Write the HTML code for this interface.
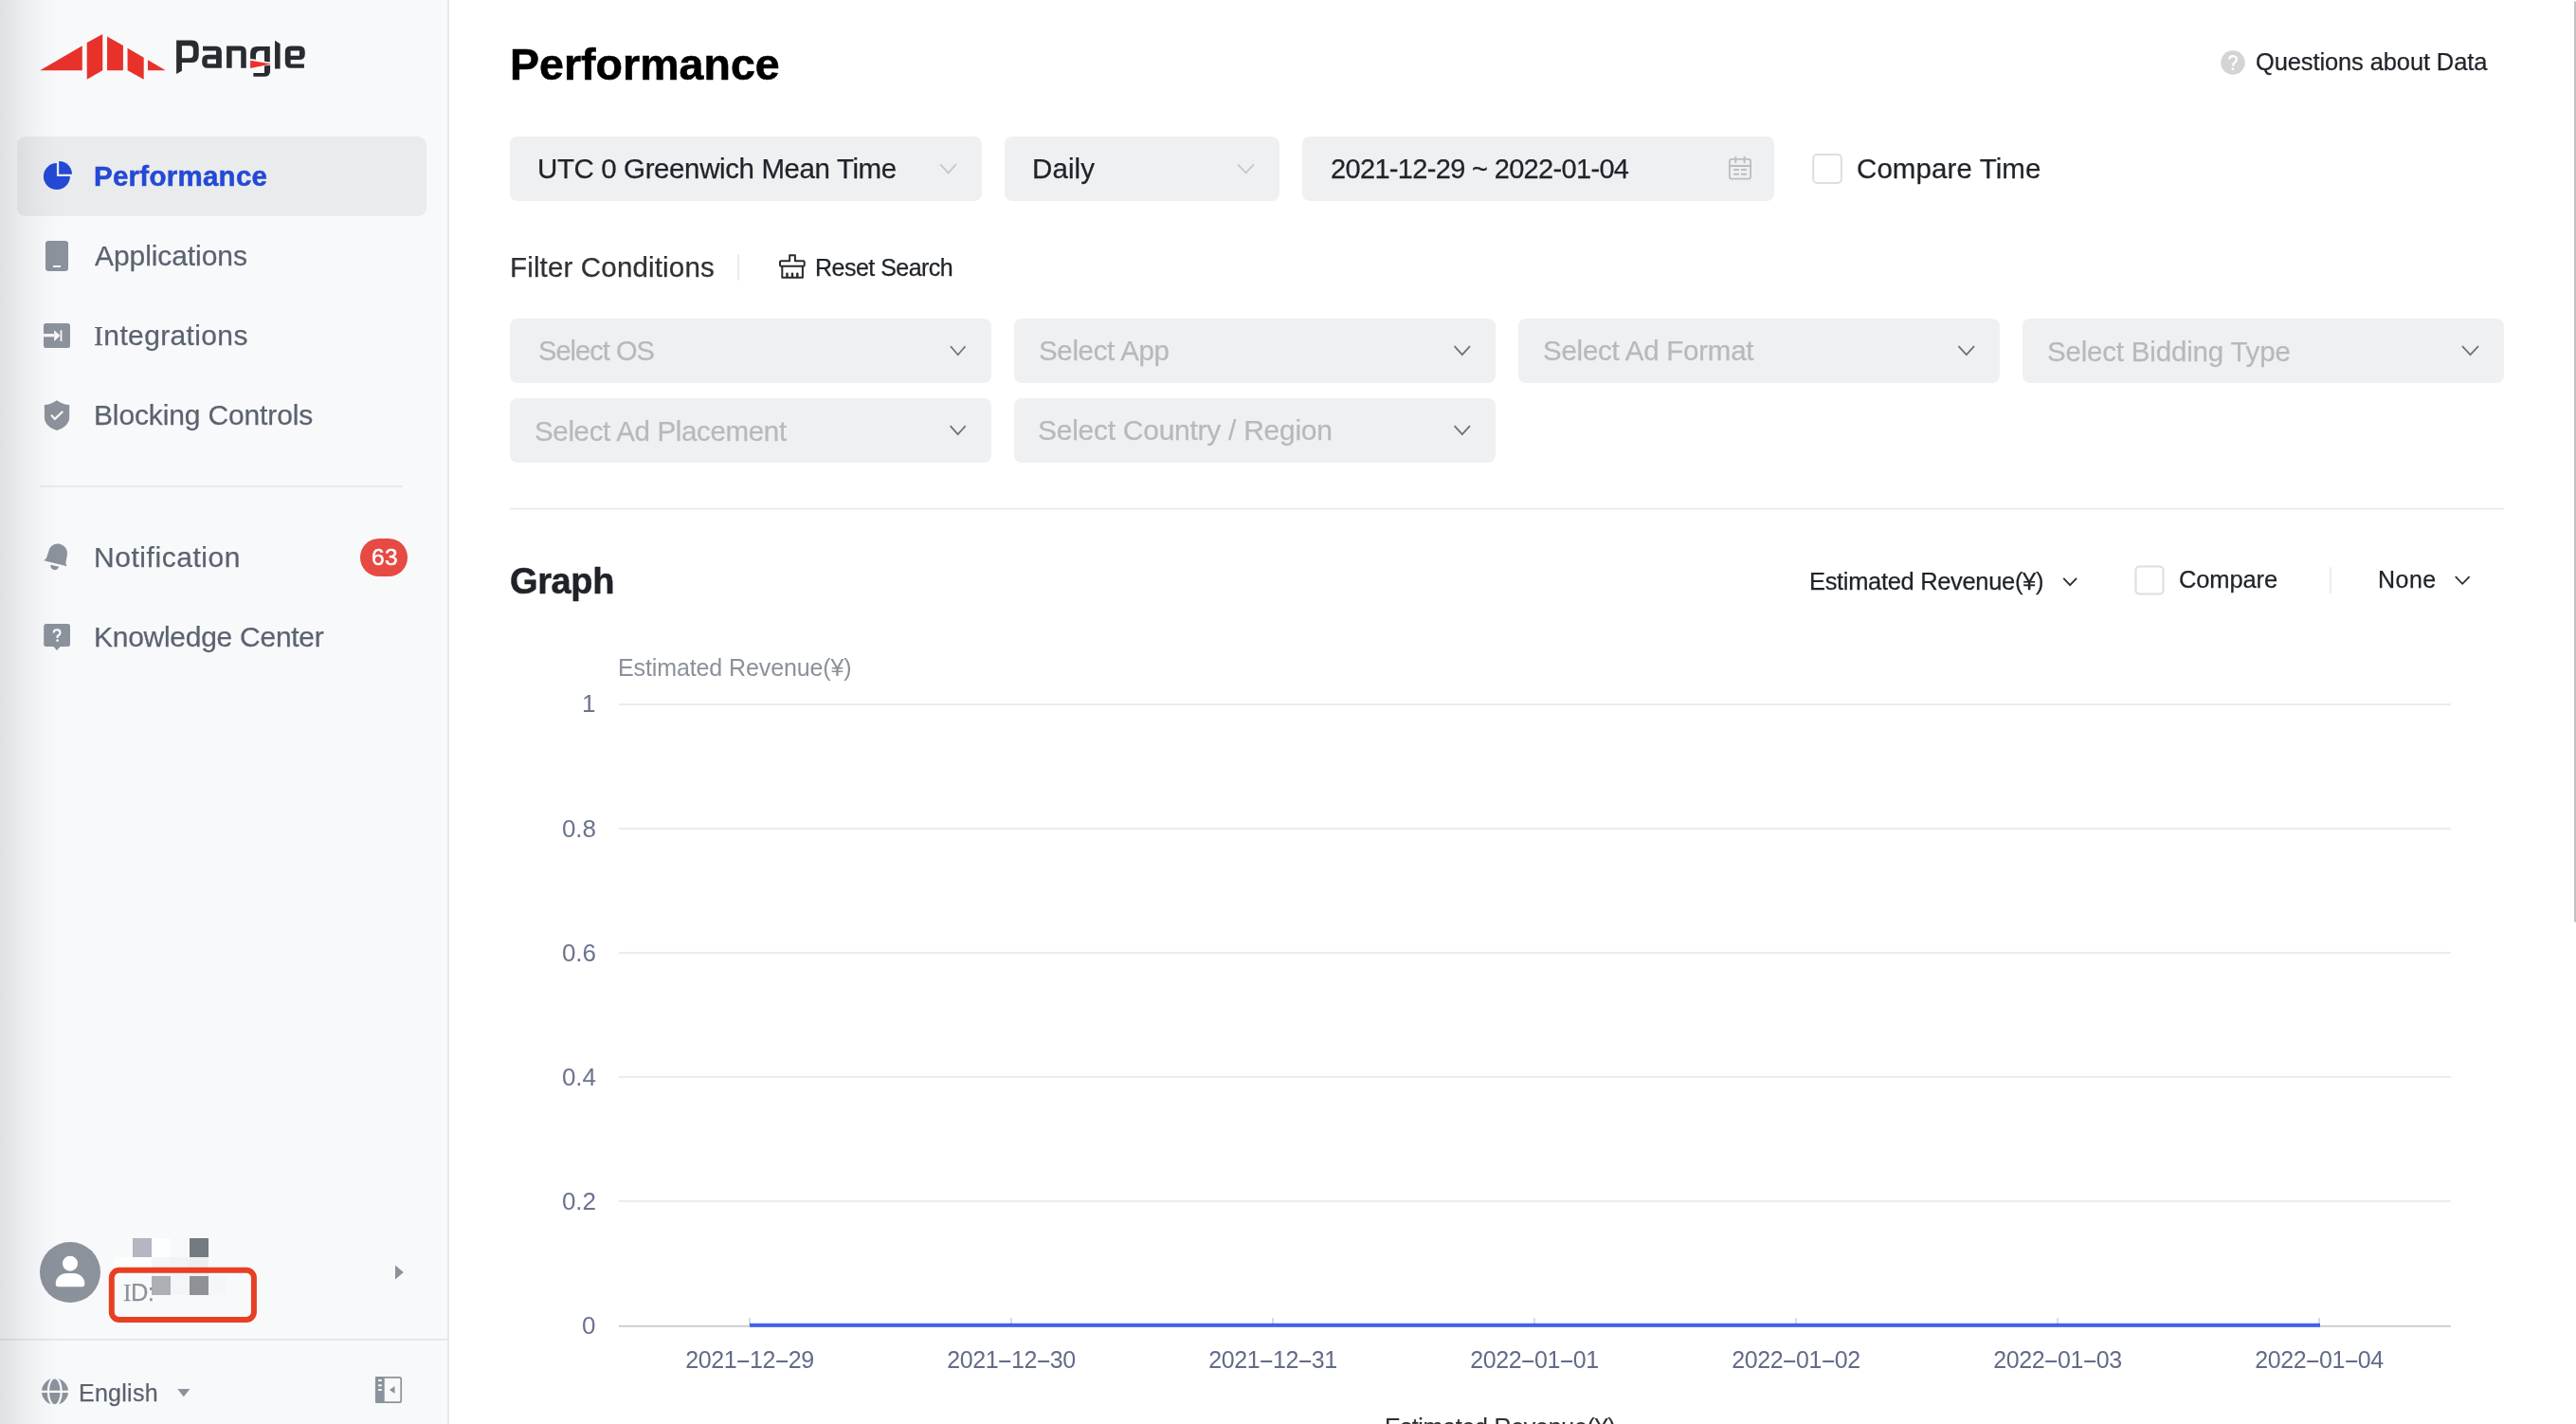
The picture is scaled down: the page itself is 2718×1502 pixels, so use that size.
<!DOCTYPE html>
<html><head><meta charset="utf-8">
<style>
html,body{margin:0;padding:0;}
body{width:2718px;height:1502px;overflow:hidden;position:relative;background:#fff;font-family:"Liberation Sans",sans-serif;}
.t{position:absolute;line-height:1;white-space:nowrap;will-change:transform;}
.abs{position:absolute;}
svg{position:absolute;left:0;top:0;overflow:visible;}
</style></head><body>
<div class="abs" style="left:0;top:0;width:472px;height:1502px;background:#f8f9fb;"></div>
<div class="abs" style="left:472px;top:0;width:2px;height:1502px;background:#e6e7ea;"></div>
<div class="abs" style="left:18px;top:144px;width:432px;height:84px;border-radius:9px;background:#eaebed;"></div>
<svg class="abs" style="left:30px;top:20px;" width="300" height="80" viewBox="0 0 2576 687">
<g fill="#e8312a">
<polygon points="105,465 488,243 488,465"/>
<polygon points="530,215 672,138 672,465 530,548"/>
<polygon points="713,158 858,240 858,465 713,465"/>
<polygon points="898,265 1045,350 1045,548 898,465"/>
<polygon points="1082,372 1243,465 1082,465"/>
</g>
<g transform="translate(1288,137.4) scale(0.5)">
<path fill="#2a2b30" fill-rule="evenodd" d="M105,110 L390,110 Q510,110 510,250 L510,375 Q510,515 390,515 L205,515 L205,665 L105,720 Z M205,210 L205,432 L345,432 Q410,432 410,370 L410,275 Q410,210 345,210 Z"/>
<path fill="#2a2b30" fill-rule="evenodd" d="M585,220 L820,220 Q925,220 925,325 L925,615 L675,615 Q570,615 570,510 L570,480 Q570,375 675,375 L825,375 L825,300 L585,300 Z M665,455 L665,535 L825,535 L825,455 Z"/>
<path fill="#2a2b30" d="M1015,215 L1265,215 Q1370,215 1370,320 L1370,615 L1275,615 L1275,300 L1110,300 L1110,615 L1015,615 Z"/>
<path fill="#2a2b30" d="M1800,225 L1800,505 L1700,492 L1700,300 L1630,300 Q1545,300 1545,385 L1545,460 L1445,447 L1445,350 Q1445,225 1570,225 Z"/>
<path fill="#2a2b30" d="M1700,575 L1805,562 L1805,665 Q1805,770 1700,770 L1500,770 L1500,705 L1700,705 Z"/>
<polygon fill="#e8312a" points="1445,478 1825,540 1445,618"/>
<path fill="#2a2b30" d="M1890,118 L1985,175 L1985,625 L1890,625 Z"/>
<path fill="#2a2b30" fill-rule="evenodd" d="M2075,320 Q2075,215 2180,215 L2330,215 Q2435,215 2435,320 L2435,360 Q2435,465 2330,465 L2175,465 L2175,540 L2420,540 L2420,615 L2180,615 Q2075,615 2075,510 Z M2175,300 L2175,390 L2335,390 L2335,300 Z"/>
</g></svg>
<svg width="2718" height="1502">
<path fill="#2349d5" d="M59.9,172.1 A14,14 0 1,0 73.9,186.1 L59.9,186.1 Z"/>
<path fill="#2349d5" d="M62.2,170 A13.8,13.8 0 0,1 76,183.8 L62.2,183.8 Z"/>
<rect x="48" y="254" width="24" height="32" rx="3" fill="#8c929b"/>
<rect x="56" y="280" width="8" height="2" fill="#f8f9fb"/>
<rect x="46" y="341" width="28" height="26" rx="2.5" fill="#8c929b"/>
<rect x="45" y="352.1" width="12" height="3.2" fill="#f8f9fb"/>
<polygon points="57.2,348.2 63.4,353.9 57.2,360" fill="#f8f9fb"/>
<rect x="63.6" y="348.2" width="1.8" height="11.8" fill="#f8f9fb"/>
<path fill="#8c929b" d="M60,422.2 C55.5,425.3 51.5,426.9 46.9,427 L46.9,440.5 C46.9,447 53,452 60,454 C67,452 73.2,447 73.2,440.5 L73.2,427 C68.5,426.9 64.5,425.3 60,422.2 Z"/>
<polyline points="54,437.8 57.9,441.9 66.3,434" fill="none" stroke="#f8f9fb" stroke-width="2.2"/>
<g transform="translate(60,588) rotate(14)" fill="#8c929b">
<path d="M-12.5,6.5 L-10.5,3.5 L-10,-4 C-10,-10.5 -5.5,-14.5 0,-14.5 C5.5,-14.5 10,-10.5 10,-4 L10.5,3.5 L12.5,6.5 Z"/>
<path d="M-4.5,9 A4.5,4.5 0 0,0 4.5,9 Z"/>
</g>
<rect x="46.2" y="658" width="27.8" height="24" rx="2.5" fill="#8c929b"/>
<polygon points="56,681.5 64,681.5 60,686" fill="#8c929b"/>
<path d="M56.6,667.6 C56.6,665.4 58,664.3 60,664.3 C62,664.3 63.5,665.5 63.5,667.4 C63.5,669.4 61.9,670 60.6,671 L60.6,673" fill="none" stroke="#fff" stroke-width="2"/>
<circle cx="60.6" cy="675.6" r="1.3" fill="#fff"/>
<line x1="42" y1="513" x2="425" y2="513" stroke="#e3e5e8" stroke-width="1.5"/>
<rect x="380" y="568" width="50" height="40" rx="20" fill="#e64a42"/>
<circle cx="74" cy="1342" r="32" fill="#8c929b"/>
<circle cx="74" cy="1332.7" r="8" fill="#fff"/>
<path d="M58.7,1354 C58.7,1347.5 64,1343 71,1343 L77,1343 C84,1343 89.4,1347.5 89.4,1354 C89.4,1356 88.5,1357.3 86.5,1357.3 L61.6,1357.3 C59.6,1357.3 58.7,1356 58.7,1354 Z" fill="#fff"/>
<rect x="140" y="1306" width="20" height="20" fill="#b3b7c2"/>
<rect x="160" y="1306" width="20" height="20" fill="#fdfeff"/>
<rect x="200" y="1306" width="20" height="20" fill="#737a80"/>
<rect x="120" y="1326" width="40" height="20" fill="#fcfdfd"/>
<rect x="160" y="1326" width="20" height="20" fill="#f4f5f8"/>
<rect x="180" y="1326" width="20" height="20" fill="#f1f3f6"/>
<rect x="200" y="1326" width="20" height="20" fill="#eeeff3"/>
<rect x="180" y="1346" width="20" height="20" fill="#f4f5f7"/>
<rect x="220" y="1346" width="19" height="20" fill="#f5f6f8"/>
<rect x="160" y="1346" width="20" height="20" fill="#aeafb4"/>
<rect x="200" y="1346" width="20" height="20" fill="#8f9196"/>
<rect x="117.8" y="1339.7" width="150.1" height="52.3" rx="8" fill="none" stroke="#e83f24" stroke-width="6"/>
<polygon points="417,1334.5 425.8,1342 417,1349.4" fill="#8c929b"/>
<rect x="0" y="1412" width="472" height="2" fill="#e6e8eb"/>
<circle cx="58" cy="1467.8" r="14" fill="#8c929b"/>
<ellipse cx="57.8" cy="1467.8" rx="6.9" ry="14.5" fill="none" stroke="#f8f9fb" stroke-width="2.2"/>
<rect x="43" y="1466.7" width="30" height="2.3" fill="#f8f9fb"/>
<polygon points="187.3,1465 200.3,1465 193.8,1473.3" fill="#8c929b"/>
<rect x="396.8" y="1452.8" width="26.4" height="26.4" rx="2" fill="none" stroke="#8c929b" stroke-width="1.7"/>
<rect x="396" y="1452" width="9.7" height="27.8" fill="#8c929b"/>
<rect x="398.8" y="1455.1" width="4.2" height="2" rx="1" fill="#f8f9fb"/>
<rect x="398.8" y="1460.2" width="4.2" height="2" rx="1" fill="#f8f9fb"/>
<rect x="398.8" y="1465.1" width="4.2" height="2" rx="1" fill="#f8f9fb"/>
<polygon points="416.5,1462 411,1466 416.5,1469.9" fill="#8c929b"/>
</svg>
<div class="t" style="left:99.0px;top:171.0px;font-size:29.5px;letter-spacing:0.26px;font-weight:700;color:#2349d5;-webkit-text-stroke:0.5px #2349d5;">Performance</div>
<div class="t" style="left:100.1px;top:255.0px;font-size:30.0px;letter-spacing:-0.08px;font-weight:400;color:#5b636f;-webkit-text-stroke:0.25px #5b636f;">Applications</div>
<div class="t" style="left:99.0px;top:339.0px;font-size:30.0px;letter-spacing:0.36px;font-weight:400;color:#5b636f;-webkit-text-stroke:0.25px #5b636f;"><span style="font-family:Liberation Serif">I</span>ntegrations</div>
<div class="t" style="left:99.0px;top:423.0px;font-size:30.0px;letter-spacing:-0.14px;font-weight:400;color:#5b636f;-webkit-text-stroke:0.25px #5b636f;">Blocking Controls</div>
<div class="t" style="left:99.1px;top:573.0px;font-size:30.0px;letter-spacing:0.55px;font-weight:400;color:#5b636f;-webkit-text-stroke:0.25px #5b636f;">Notification</div>
<div class="t" style="left:99.1px;top:657.2px;font-size:30.0px;letter-spacing:-0.27px;font-weight:400;color:#5b636f;-webkit-text-stroke:0.25px #5b636f;">Knowledge Center</div>
<div class="t" style="left:391.6px;top:576.3px;font-size:24.5px;letter-spacing:0.3px;font-weight:400;color:#fff;-webkit-text-stroke:0.45px #fff;">63</div>
<div class="t" style="left:129.7px;top:1351.0px;font-size:25.5px;letter-spacing:-0.6px;font-weight:400;color:#8c929b;-webkit-text-stroke:0.25px #8c929b;"><span style="font-family:Liberation Serif">I</span>D:</div>
<div class="t" style="left:83.3px;top:1456.6px;font-size:25.0px;letter-spacing:0.27px;font-weight:400;color:#5b636f;-webkit-text-stroke:0.25px #5b636f;">English</div>
<div class="abs" style="left:0;top:0;width:64px;height:1502px;background:linear-gradient(to right,rgba(20,25,40,0.11) 0px,rgba(20,25,40,0.078) 14px,rgba(20,25,40,0.045) 30px,rgba(20,25,40,0.018) 45px,rgba(20,25,40,0) 64px);"></div>
<svg width="2718" height="1502">
<circle cx="2356" cy="66" r="12.75" fill="#d3d4d6"/>
<path d="M2352.2,62.8 C2352.2,60.5 2353.9,59.1 2356,59.1 C2358.2,59.1 2359.9,60.6 2359.9,62.7 C2359.9,64.9 2358,65.8 2356.6,67 L2356.2,69.6" fill="none" stroke="#fff" stroke-width="2.2"/>
<circle cx="2356" cy="72.8" r="1.4" fill="#fff"/>
<rect x="538" y="144" width="498" height="68" rx="8" fill="#eff0f2"/>
<rect x="1060" y="144" width="290" height="68" rx="8" fill="#eff0f2"/>
<rect x="1374" y="144" width="498" height="68" rx="8" fill="#eff0f2"/>
<polyline points="992.2,173.3 1000.5,182.3 1008.8,173.3" fill="none" stroke="#c4c7cc" stroke-width="1.8"/>
<polyline points="1306,173.3 1314.5,182.3 1323,173.3" fill="none" stroke="#c4c7cc" stroke-width="1.8"/>
<g fill="none" stroke="#bbbdc2" stroke-width="1.8" stroke-linecap="round">
<rect x="1824.9" y="167.9" width="22.2" height="20.8" rx="2.5"/>
<line x1="1825" y1="175" x2="1847" y2="175"/>
<line x1="1831.3" y1="165.8" x2="1831.3" y2="171.3" stroke-width="2"/>
<line x1="1840.6" y1="165.8" x2="1840.6" y2="171.3" stroke-width="2"/>
<line x1="1829.8" y1="179.1" x2="1834.2" y2="179.1" stroke-width="2"/>
<line x1="1837.8" y1="179.1" x2="1842.2" y2="179.1" stroke-width="2"/>
<line x1="1829.8" y1="183.7" x2="1834.2" y2="183.7" stroke-width="2"/>
<line x1="1837.8" y1="183.7" x2="1842.2" y2="183.7" stroke-width="2"/>
</g>
<rect x="1913.2" y="163" width="29.7" height="29.9" rx="4" fill="#fff" stroke="#dcdee2" stroke-width="2"/>
<line x1="779" y1="268.2" x2="779" y2="295.8" stroke="#e2e4e7" stroke-width="1.5"/>
<g fill="none" stroke="#2b2b2b" stroke-width="2" stroke-linejoin="round">
<path d="M833.2,275.2 L833.2,269.3 L838.9,269.3 L838.9,275.2 L847.7,275.2 Q848.7,275.2 848.7,276.2 L848.7,279.7 Q848.7,280.7 847.7,280.7 L824,280.7 Q823,280.7 823,279.7 L823,276.2 Q823,275.2 824,275.2 Z"/>
<path d="M825.3,280.7 L825.3,292.7 L846.9,292.7 L846.9,280.7"/>
<g stroke-width="2.4" stroke-linecap="round"><line x1="830.5" y1="288.6" x2="830.5" y2="292"/><line x1="836" y1="288.6" x2="836" y2="292"/><line x1="841.3" y1="288.6" x2="841.3" y2="292"/></g>
</g>
<rect x="538" y="336" width="508" height="68" rx="8" fill="#eff0f2"/>
<rect x="1070" y="336" width="508" height="68" rx="8" fill="#eff0f2"/>
<rect x="1602" y="336" width="508" height="68" rx="8" fill="#eff0f2"/>
<rect x="2134" y="336" width="508" height="68" rx="8" fill="#eff0f2"/>
<rect x="538" y="420" width="508" height="68" rx="8" fill="#eff0f2"/>
<rect x="1070" y="420" width="508" height="68" rx="8" fill="#eff0f2"/>
<g fill="none" stroke="#6c7179" stroke-width="1.75">
<polyline points="1003,365.2 1010.75,374.2 1018.5,365.2"/>
<polyline points="1534.6,365.2 1542.8,374.2 1551,365.2"/>
<polyline points="2066.5,365.2 2074.75,374.2 2083,365.2"/>
<polyline points="2598,365.2 2606.5,374.2 2615,365.2"/>
<polyline points="1002.6,449.2 1010.65,458.2 1018.7,449.2"/>
<polyline points="1534.6,449.2 1542.8,458.2 1551,449.2"/>
</g>
<rect x="538" y="535.8" width="2104" height="1.5" fill="#e5e6e8"/>
<polyline points="2177.2,609.8 2184.15,617.2 2191.1,609.8" fill="none" stroke="#2a2e35" stroke-width="1.8"/>
<rect x="2253.5" y="597.6" width="29" height="29" rx="4" fill="#fff" stroke="#dcdee2" stroke-width="2"/>
<line x1="2459" y1="598.2" x2="2459" y2="625.7" stroke="#e4e6e9" stroke-width="1.5"/>
<polyline points="2590.8,608.2 2598.2,615.8 2605.6,608.2" fill="none" stroke="#2a2e35" stroke-width="1.8"/>
<rect x="653" y="742" width="1933" height="2" fill="#ebecef"/>
<rect x="653" y="873" width="1933" height="2" fill="#ebecef"/>
<rect x="653" y="1004" width="1933" height="2" fill="#ebecef"/>
<rect x="653" y="1135" width="1933" height="2" fill="#ebecef"/>
<rect x="653" y="1266" width="1933" height="2" fill="#ebecef"/>
<rect x="653" y="1397.8" width="1933" height="2" fill="#cdd0d5"/>
<rect x="790.25" y="1390" width="1.5" height="8" fill="#cdd0d5"/>
<rect x="1066.25" y="1390" width="1.5" height="8" fill="#cdd0d5"/>
<rect x="1342.25" y="1390" width="1.5" height="8" fill="#cdd0d5"/>
<rect x="1618.25" y="1390" width="1.5" height="8" fill="#cdd0d5"/>
<rect x="1894.25" y="1390" width="1.5" height="8" fill="#cdd0d5"/>
<rect x="2170.25" y="1390" width="1.5" height="8" fill="#cdd0d5"/>
<rect x="2446.25" y="1390" width="1.5" height="8" fill="#cdd0d5"/>
<rect x="791" y="1395.8" width="1657" height="4" fill="#4361e6"/>
<rect x="2716" y="1" width="4" height="972" rx="2" fill="#c1c2c6"/>
</svg>
<div class="t" style="left:538.3px;top:45.0px;font-size:46.5px;letter-spacing:0.04px;font-weight:700;color:#000;-webkit-text-stroke:0.6px #000;">Performance</div>
<div class="t" style="left:2379.9px;top:53.2px;font-size:25.5px;letter-spacing:-0.12px;font-weight:400;color:#1f2329;-webkit-text-stroke:0.25px #1f2329;">Questions about Data</div>
<div class="t" style="left:567.1px;top:163.2px;font-size:29.5px;letter-spacing:-0.39px;font-weight:400;color:#1f2329;-webkit-text-stroke:0.25px #1f2329;">UTC 0 Greenwich Mean Time</div>
<div class="t" style="left:1089.0px;top:163.0px;font-size:29.5px;letter-spacing:0.12px;font-weight:400;color:#1f2329;-webkit-text-stroke:0.25px #1f2329;">Daily</div>
<div class="t" style="left:1403.9px;top:163.9px;font-size:29.0px;letter-spacing:-0.67px;font-weight:400;color:#1f2329;-webkit-text-stroke:0.25px #1f2329;">2021-12-29 ~ 2022-01-04</div>
<div class="t" style="left:1959.0px;top:162.8px;font-size:29.5px;letter-spacing:0.08px;font-weight:400;color:#1f2329;-webkit-text-stroke:0.25px #1f2329;">Compare Time</div>
<div class="t" style="left:537.7px;top:266.9px;font-size:29.5px;letter-spacing:0.16px;font-weight:400;color:#2f3134;-webkit-text-stroke:0.25px #2f3134;">Filter Conditions</div>
<div class="t" style="left:860.3px;top:269.5px;font-size:25.0px;letter-spacing:-0.52px;font-weight:400;color:#1f2329;-webkit-text-stroke:0.25px #1f2329;">Reset Search</div>
<div class="t" style="left:567.7px;top:356.2px;font-size:29.0px;letter-spacing:-0.95px;font-weight:400;color:#b6b9be;-webkit-text-stroke:0.25px #b6b9be;">Select OS</div>
<div class="t" style="left:1095.5px;top:355.2px;font-size:29.5px;letter-spacing:-0.34px;font-weight:400;color:#b6b9be;-webkit-text-stroke:0.25px #b6b9be;">Select App</div>
<div class="t" style="left:1627.8px;top:355.2px;font-size:29.5px;letter-spacing:-0.25px;font-weight:400;color:#b6b9be;-webkit-text-stroke:0.25px #b6b9be;">Select Ad Format</div>
<div class="t" style="left:2159.8px;top:355.5px;font-size:29.5px;letter-spacing:-0.19px;font-weight:400;color:#b6b9be;-webkit-text-stroke:0.25px #b6b9be;">Select Bidding Type</div>
<div class="t" style="left:563.6px;top:439.5px;font-size:29.5px;letter-spacing:-0.34px;font-weight:400;color:#b6b9be;-webkit-text-stroke:0.25px #b6b9be;">Select Ad Placement</div>
<div class="t" style="left:1094.5px;top:438.6px;font-size:30.0px;letter-spacing:-0.27px;font-weight:400;color:#b6b9be;-webkit-text-stroke:0.25px #b6b9be;">Select Country / Region</div>
<div class="t" style="left:537.6px;top:594.1px;font-size:38.0px;letter-spacing:-0.38px;font-weight:700;color:#1f2329;-webkit-text-stroke:0.5px #1f2329;">Graph</div>
<div class="t" style="left:1908.6px;top:601.3px;font-size:25.5px;letter-spacing:-0.33px;font-weight:400;color:#1f2329;-webkit-text-stroke:0.25px #1f2329;">Estimated Revenue(¥)</div>
<div class="t" style="left:2299.0px;top:599.0px;font-size:25.5px;letter-spacing:-0.13px;font-weight:400;color:#1f2329;-webkit-text-stroke:0.25px #1f2329;">Compare</div>
<div class="t" style="left:2508.6px;top:599.0px;font-size:25.0px;letter-spacing:0.5px;font-weight:400;color:#1f2329;-webkit-text-stroke:0.25px #1f2329;">None</div>
<div class="t" style="left:652.2px;top:691.8px;font-size:25.0px;letter-spacing:-0.11px;font-weight:400;color:#8b919a;">Estimated Revenue(¥)</div>
<div class="t" style="right:2089.4px;top:728.8px;font-size:26.0px;letter-spacing:-0.15px;color:#6b7390;">1</div>
<div class="t" style="right:2089.4px;top:860.6px;font-size:26.0px;letter-spacing:-0.15px;color:#6b7390;">0.8</div>
<div class="t" style="right:2089.4px;top:991.6px;font-size:26.0px;letter-spacing:-0.15px;color:#6b7390;">0.6</div>
<div class="t" style="right:2089.4px;top:1122.6px;font-size:26.0px;letter-spacing:-0.15px;color:#6b7390;">0.4</div>
<div class="t" style="right:2089.4px;top:1253.8px;font-size:26.0px;letter-spacing:-0.15px;color:#6b7390;">0.2</div>
<div class="t" style="right:2089.4px;top:1385.2px;font-size:26.0px;letter-spacing:-0.15px;color:#6b7390;">0</div>
<div class="t" style="left:791px;top:1422.4px;font-size:25px;letter-spacing:-0.4px;color:#636b88;transform:translateX(-50%);">2021<span style="display:inline-block;width:12px;height:1.8px;background:currentColor;margin:0 0.9px;vertical-align:6.1px"></span>12<span style="display:inline-block;width:12px;height:1.8px;background:currentColor;margin:0 0.9px;vertical-align:6.1px"></span>29</div>
<div class="t" style="left:1067px;top:1422.4px;font-size:25px;letter-spacing:-0.4px;color:#636b88;transform:translateX(-50%);">2021<span style="display:inline-block;width:12px;height:1.8px;background:currentColor;margin:0 0.9px;vertical-align:6.1px"></span>12<span style="display:inline-block;width:12px;height:1.8px;background:currentColor;margin:0 0.9px;vertical-align:6.1px"></span>30</div>
<div class="t" style="left:1343px;top:1422.4px;font-size:25px;letter-spacing:-0.4px;color:#636b88;transform:translateX(-50%);">2021<span style="display:inline-block;width:12px;height:1.8px;background:currentColor;margin:0 0.9px;vertical-align:6.1px"></span>12<span style="display:inline-block;width:12px;height:1.8px;background:currentColor;margin:0 0.9px;vertical-align:6.1px"></span>31</div>
<div class="t" style="left:1619px;top:1422.4px;font-size:25px;letter-spacing:-0.4px;color:#636b88;transform:translateX(-50%);">2022<span style="display:inline-block;width:12px;height:1.8px;background:currentColor;margin:0 0.9px;vertical-align:6.1px"></span>01<span style="display:inline-block;width:12px;height:1.8px;background:currentColor;margin:0 0.9px;vertical-align:6.1px"></span>01</div>
<div class="t" style="left:1895px;top:1422.4px;font-size:25px;letter-spacing:-0.4px;color:#636b88;transform:translateX(-50%);">2022<span style="display:inline-block;width:12px;height:1.8px;background:currentColor;margin:0 0.9px;vertical-align:6.1px"></span>01<span style="display:inline-block;width:12px;height:1.8px;background:currentColor;margin:0 0.9px;vertical-align:6.1px"></span>02</div>
<div class="t" style="left:2171px;top:1422.4px;font-size:25px;letter-spacing:-0.4px;color:#636b88;transform:translateX(-50%);">2022<span style="display:inline-block;width:12px;height:1.8px;background:currentColor;margin:0 0.9px;vertical-align:6.1px"></span>01<span style="display:inline-block;width:12px;height:1.8px;background:currentColor;margin:0 0.9px;vertical-align:6.1px"></span>03</div>
<div class="t" style="left:2447px;top:1422.4px;font-size:25px;letter-spacing:-0.4px;color:#636b88;transform:translateX(-50%);">2022<span style="display:inline-block;width:12px;height:1.8px;background:currentColor;margin:0 0.9px;vertical-align:6.1px"></span>01<span style="display:inline-block;width:12px;height:1.8px;background:currentColor;margin:0 0.9px;vertical-align:6.1px"></span>04</div>
<div class="t" style="left:1460.7px;top:1492.7px;font-size:25.0px;letter-spacing:-0.27px;font-weight:400;color:#2f2f33;-webkit-text-stroke:0.15px #2f2f33;">Estimated Revenue(¥)</div>
</body></html>
